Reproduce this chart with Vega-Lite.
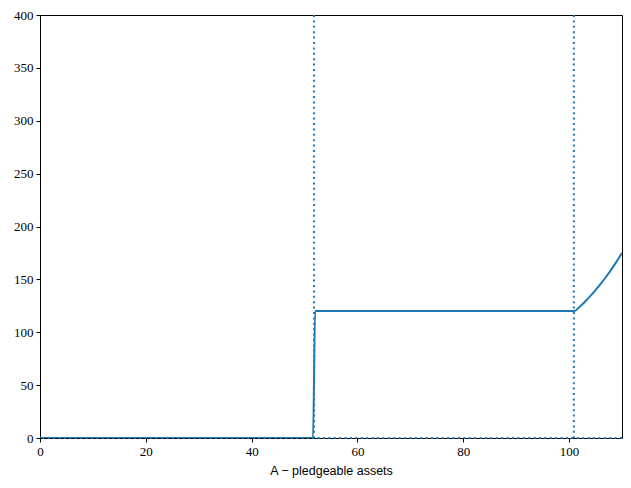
{
  "$schema": "https://vega.github.io/schema/vega-lite/v6.json",
  "width": 582,
  "height": 423,
  "autosize": "none",
  "padding": {"left": 40, "top": 15, "right": 9, "bottom": 50},
  "background": "white",
  "config": {
    "view": {"stroke": "black", "strokeWidth": 1},
    "axis": {
      "grid": false,
      "domainColor": "black",
      "tickColor": "black",
      "tickSize": 4,
      "labelFlush": false,
      "labelFont": "Liberation Serif",
      "labelFontSize": 13,
      "labelColor": "black",
      "titleFont": "Liberation Sans",
      "titleFontSize": 12.5,
      "titleFontWeight": "normal",
      "titleColor": "black"
    }
  },
  "datasets": {
    "curve": [
      {"A": 0, "v": 0},
      {"A": 51.6, "v": 0},
      {"A": 52.0, "v": 120},
      {"A": 101, "v": 120},
      {"A": 102, "v": 124.2},
      {"A": 103, "v": 128.9},
      {"A": 104, "v": 134.1},
      {"A": 105, "v": 139.8},
      {"A": 106, "v": 145.9},
      {"A": 107, "v": 152.5},
      {"A": 108, "v": 159.5},
      {"A": 109, "v": 167.0},
      {"A": 110, "v": 175.0}
    ],
    "cutoffs": [
      {"A": 51.8},
      {"A": 100.9}
    ]
  },
  "layer": [
    {
      "data": {"values": [{"v": 0}]},
      "mark": {"type": "rule", "color": "#1f77b4", "strokeWidth": 2, "strokeDash": [2, 3.4]},
      "encoding": {
        "y": {"field": "v", "type": "quantitative"}
      }
    },
    {
      "data": {"name": "cutoffs"},
      "mark": {"type": "rule", "color": "#1f77b4", "strokeWidth": 2, "strokeDash": [2, 3.4]},
      "encoding": {
        "x": {"field": "A", "type": "quantitative"}
      }
    },
    {
      "data": {"name": "curve"},
      "mark": {"type": "line", "color": "#1f77b4", "strokeWidth": 2, "interpolate": "monotone", "clip": true},
      "encoding": {
        "x": {
          "field": "A",
          "type": "quantitative",
          "title": "A − pledgeable assets",
          "scale": {"domain": [0, 110], "nice": false, "zero": false},
          "axis": {"values": [0, 20, 40, 60, 80, 100], "labelPadding": 3, "titlePadding": 6}
        },
        "y": {
          "field": "v",
          "type": "quantitative",
          "title": null,
          "scale": {"domain": [0, 400], "nice": false},
          "axis": {"values": [0, 50, 100, 150, 200, 250, 300, 350, 400], "labelPadding": 3}
        }
      }
    }
  ]
}
